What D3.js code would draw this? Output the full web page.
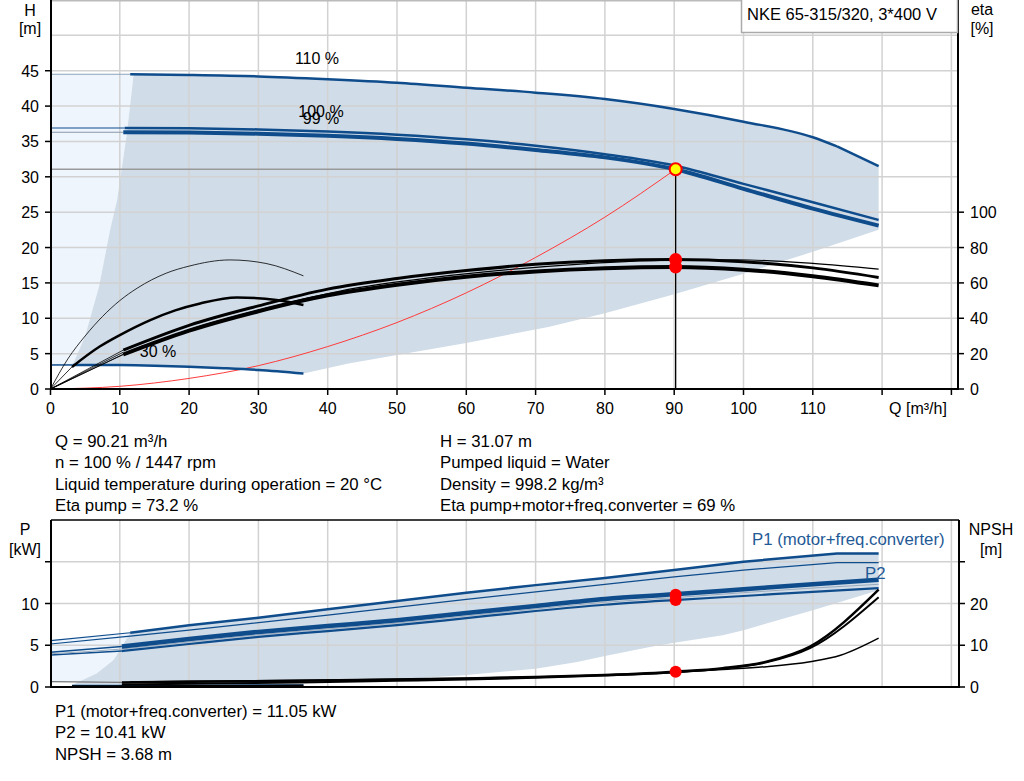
<!DOCTYPE html>
<html><head><meta charset="utf-8">
<script src="https://cdn.jsdelivr.net/npm/d3@7"></script>
<style>
body{margin:0;background:#fff}
text{font-family:"Liberation Sans",Arial,sans-serif;fill:#000}
</style>
</head><body>
<svg id="c" width="1024" height="781"></svg>
<script>
// ---------- DATA ----------
const qTicks = [0,10,20,30,40,50,60,70,80,90,100,110];
const qGrid = [10,20,30,40,50,60,70,80,90,100,110,120,130];
const hTicks = [0,5,10,15,20,25,30,35,40,45];
const etaTicks = [0,20,40,60,80,100];
const pTicks = [0,5,10];
const npshTicks = [0,10,20];

// Head curves [Q m3/h, H m]
const head110 = [[11.5,44.5],[20,44.4],[30,44.2],[40,43.8],[50,43.3],[60,42.6],[70,41.9],[80,41.0],[90,39.6],[100,37.8],[110,35.6],[113.5,34.3],[119.5,31.5]];
const head110Ext = [[0,44.5],[11.5,44.5]];
const head100 = [[10.7,36.9],[20,36.85],[30,36.7],[40,36.4],[50,35.95],[60,35.3],[70,34.4],[80,33.2],[90,31.6],[100,29.0],[110,26.4],[119.5,23.9]];
const head100Ext = [[0,36.9],[10.7,36.9]];
const head99 = [[10.5,36.3],[20,36.25],[30,36.1],[40,35.8],[50,35.35],[60,34.7],[70,33.8],[80,32.75],[90,31.1],[100,28.3],[110,25.5],[119.5,23.1]];
const head99Ext = [[0,36.3],[10.5,36.3]];
const head30 = [[3.2,3.4],[10,3.38],[15,3.3],[20,3.15],[25,2.95],[30,2.7],[36.5,2.2]];
const head30Ext = [[0,3.4],[3.2,3.4]];
const topLeftBoundary = [[3.2,3.4],[5,7.5],[7,14.5],[8.6,22.5],[9.6,26.7],[11,36],[12,44.5]];
const topLowerBoundary = [[36.5,2.2],[43,3.6],[50,4.8],[60,6.5],[72,8.8],[80,10.7],[90,13.4],[100,16.3],[110,19.4],[119.5,22.5]];
const systemCurve = [[0,0],[10,0.38],[20,1.5],[30,3.3],[40,6.0],[50,9.4],[60,13.6],[70,18.6],[80,24.3],[90.21,31.07]];

// Efficiency curves [Q, eta %]
const etaPump = [[10.5,22],[20,36],[30,47],[40,56.5],[50,62.5],[60,67],[70,70.5],[80,72.5],[90,73.2],[100,72],[110,68.5],[119.5,63.1]];
const etaTotal = [[10.5,19.5],[20,33],[30,44],[40,53],[50,59],[60,63.5],[70,66.5],[80,68.3],[90,69],[100,67.5],[110,63.8],[119.5,58.6]];
const eta110 = [[11.5,21.5],[22,36],[33,47.5],[44,57],[55,63],[66,67.5],[77,70.8],[88,72.8],[99,73.1],[110,71],[119.5,67.8]];
const eta30Pump = [[0,0],[2.5,17],[5,30],[7.5,41],[10,50],[12.5,57],[16.7,65.5],[20,69.5],[25.9,73],[31.1,71],[36.5,64]];
const eta30Total = [[3.1,12.5],[7.1,24],[10,30.5],[14.4,39],[18,44.5],[21.6,48.4],[26.9,51.8],[32.6,50.3],[36.5,47.5]];
const etaOriginExt = [[[0,0],[10.5,22]],[[0,0],[10.5,19.5]],[[0,0],[11.5,21.5]],[[0,0],[3.1,12.5]],[[0,0],[10.5,20.8]]];

// Power curves [Q, P kW]
const p1_110 = [[11.5,6.5],[20,7.4],[30,8.3],[40,9.3],[50,10.3],[60,11.3],[70,12.2],[80,13.05],[90,14.0],[100,15.0],[113.5,16.0],[119.5,16.0]];
const p1_110Ext = [[0,5.55],[11.5,6.5]];
const p2_110 = [[0,5.15],[11.5,6.1],[20,6.8],[40,8.6],[60,10.5],[80,12.3],[90,13.2],[100,14.0],[113.5,14.9],[119.5,14.9]];
const p1 = [[10.3,4.85],[20,5.75],[30,6.6],[40,7.3],[50,8.0],[60,8.85],[70,9.7],[80,10.55],[90,11.1],[100,11.7],[110,12.3],[119.5,12.85]];
const p1Ext = [[0,4.15],[10.3,4.85]];
const p1b = [[0,3.98],[10.3,4.55],[20,5.4],[30,6.25],[40,6.95],[50,7.65],[60,8.5],[70,9.35],[80,10.15],[90,10.7],[100,11.3],[110,11.85],[119.5,12.3]];
const p2 = [[10.3,4.3],[20,5.15],[30,6.0],[40,6.7],[50,7.4],[60,8.25],[70,9.1],[80,9.85],[90,10.41],[100,10.9],[110,11.4],[119.5,11.85]];
const p2Ext = [[0,3.83],[10.3,4.3]];
const p30 = [[3.1,0.15],[10,0.16],[20,0.18],[30,0.2],[36.5,0.22]];
const botLeftBoundary = [[3.1,0.24],[6.7,1.64],[9.1,3.24],[10.3,4.83],[11.2,6.1],[11.5,6.5]];
const botLowerBoundary = [[36.5,0.45],[50,0.9],[60,1.44],[70,2.2],[76,3.0],[80,3.7],[86.5,4.8],[90,5.3],[97,6.2],[100,6.8],[110,9.2],[119.5,11.6]];

// NPSH curves [Q, NPSH m]
const npsh100 = [[10.3,1.1],[20,1.25],[36,1.5],[50,1.8],[60,2.05],[70,2.4],[80,2.9],[90.21,3.68],[97,4.5],[103.3,6.07],[109.6,9.7],[119.5,23.3]];
const npsh99 = [[10.3,0.6],[20,0.8],[36,1.1],[50,1.5],[60,1.8],[70,2.2],[80,2.75],[90,3.5],[97,4.4],[103.3,5.9],[109.6,9.3],[119.5,21.5]];
const npsh110 = [[11.5,1.2],[20,1.35],[40,1.65],[60,2.1],[80,2.9],[90,3.55],[97,4.2],[103.3,4.87],[109.6,6.07],[114,7.6],[119.5,11.7]];
const npsh30 = [[3.1,0.1],[10,0.12],[20,0.16],[30,0.22],[36.5,0.28]];
const npshExt = [[0,1.27],[10.3,1.1]];

// Operating point
const opQ = 90.21, opH = 31.07, opEtaPump = 73.2, opEtaTotal = 69, opP1 = 11.05, opP2 = 10.41, opNPSH = 3.68;

const curveLabels = ["110 %","100 %","99 %","30 %"];
const infoLeft = ["Q = 90.21 m³/h","n = 100 % / 1447 rpm","Liquid temperature during operation = 20 °C","Eta pump = 73.2 %"];
const infoRight = ["H = 31.07 m","Pumped liquid = Water","Density = 998.2 kg/m³","Eta pump+motor+freq.converter = 69 %"];
const infoBottom = ["P1 (motor+freq.converter) = 11.05 kW","P2 = 10.41 kW","NPSH = 3.68 m"];
const title = "NKE 65-315/320, 3*400 V";

// ---------- SCALES ----------
const svg = d3.select("#c");
const X0 = 51, X1 = 958;
const x = d3.scaleLinear().domain([0,130]).range([50.5,951.4]);
const yH = d3.scaleLinear().domain([0,55]).range([389,0]);
const yE = d3.scaleLinear().domain([0,220]).range([389,0]);
const yP = d3.scaleLinear().domain([0,20]).range([687,520]);
const yN = d3.scaleLinear().domain([0,40]).range([687,520]);

const BLUE = "#0f4c8c", SHADE = "#d0dce8", LIGHT = "#eef5fc", GRID = "#d2d2d2";

function lineFn(ys, curve){ return d3.line().x(d=>x(d[0])).y(d=>ys(d[1])).curve(curve||d3.curveMonotoneX); }
function path(data, ys, color, w, curve){
  svg.append("path").attr("d", lineFn(ys, curve)(data)).attr("fill","none")
    .attr("stroke",color).attr("stroke-width",w).attr("stroke-linejoin","round").attr("stroke-linecap","butt");
}
function poly(data, ys, fill){
  svg.append("path").attr("d", lineFn(ys, d3.curveLinear)(data)+"Z").attr("fill",fill).attr("stroke","none");
}

// ---------- TOP CHART ----------
poly([[0,44.5],...topLeftBoundary.slice().reverse(),[0,3.4]], yH, LIGHT);
poly([...topLeftBoundary, ...head110.filter(d=>d[0]>12), [119.5,22.5], ...topLowerBoundary.slice().reverse(), ...head30.slice().reverse()], yH, SHADE);

const gTop = svg.append("g");
qGrid.forEach(q=>gTop.append("line").attr("x1",x(q)).attr("x2",x(q)).attr("y1",0).attr("y2",389).attr("stroke",GRID).attr("stroke-width",1.5));
d3.range(5,56,5).forEach(h=>gTop.append("line").attr("x1",X0).attr("x2",X1).attr("y1",yH(h)).attr("y2",yH(h)).attr("stroke",GRID).attr("stroke-width",1.5));
gTop.append("line").attr("x1",X0).attr("x2",X1).attr("y1",0.75).attr("y2",0.75).attr("stroke","#bbb").attr("stroke-width",1.5);

path(systemCurve, yH, "#ff3b3b", 1);
svg.append("line").attr("x1",X0).attr("x2",x(opQ)).attr("y1",yH(opH)).attr("y2",yH(opH)).attr("stroke","#999").attr("stroke-width",1.5);
svg.append("line").attr("x1",x(opQ)).attr("x2",x(opQ)).attr("y1",yH(opH)).attr("y2",389).attr("stroke","#000").attr("stroke-width",1.3);

path(head110Ext, yH, "#8ca3bd", 1.2);
path(head100Ext, yH, BLUE, 1.2);
path(head99Ext, yH, "#8899aa", 1.2);
path(head30Ext, yH, BLUE, 1.5);
// 110 %: smooth up to the kink, straight after it
path(head110.filter(d=>d[0]<=113.5), yH, BLUE, 2.5);
path(head110.filter(d=>d[0]>=113.5), yH, BLUE, 2.5, d3.curveLinear);
path(head100, yH, BLUE, 2.5);
path(head99, yH, BLUE, 4);
path(head30, yH, BLUE, 2.5);

etaOriginExt.forEach(d=>path(d, yE, "#000", 0.8, d3.curveLinear));
path(eta30Pump, yE, "#000", 0.8);
path(eta30Total, yE, "#000", 2.5);
path(eta110, yE, "#000", 1.2);
path(etaPump, yE, "#000", 3);
path(etaTotal, yE, "#000", 4);

svg.append("circle").attr("cx",x(opQ)).attr("cy",yE(opEtaPump)).attr("r",6.5).attr("fill","#ff0000");
svg.append("circle").attr("cx",x(opQ)).attr("cy",yE(opEtaTotal)).attr("r",6.5).attr("fill","#ff0000");
svg.append("circle").attr("cx",x(opQ)).attr("cy",yH(opH)).attr("r",6).attr("fill","#ffff00").attr("stroke","#ff0000").attr("stroke-width",2);

const lblPos = {"110 %":[317,64],"100 %":[321,117],"99 %":[321,124],"30 %":[158,357]};
curveLabels.forEach(l=>svg.append("text").attr("x",lblPos[l][0]).attr("y",lblPos[l][1]).attr("text-anchor","middle").attr("font-size",16).text(l));

svg.append("line").attr("x1",X0).attr("x2",X0).attr("y1",0).attr("y2",390).attr("stroke","#000").attr("stroke-width",2);
svg.append("line").attr("x1",X1).attr("x2",X1).attr("y1",0).attr("y2",390).attr("stroke","#000").attr("stroke-width",2);
svg.append("line").attr("x1",X0).attr("x2",X1).attr("y1",389).attr("y2",389).attr("stroke","#000").attr("stroke-width",2);
hTicks.forEach(h=>{
  svg.append("line").attr("x1",45).attr("x2",X0).attr("y1",yH(h)).attr("y2",yH(h)).attr("stroke","#000").attr("stroke-width",1.5);
  svg.append("text").attr("x",39).attr("y",yH(h)+6).attr("text-anchor","end").attr("font-size",16).text(h);
});
etaTicks.forEach(e=>{
  svg.append("line").attr("x1",X1).attr("x2",X1+6).attr("y1",yE(e)).attr("y2",yE(e)).attr("stroke","#000").attr("stroke-width",1.5);
  svg.append("text").attr("x",970).attr("y",yE(e)+6).attr("font-size",16).text(e);
});
qGrid.concat([0]).forEach(q=>svg.append("line").attr("x1",x(q)).attr("x2",x(q)).attr("y1",389).attr("y2",395).attr("stroke","#000").attr("stroke-width",1.5));
qTicks.forEach(q=>svg.append("text").attr("x",x(q)).attr("y",414).attr("text-anchor","middle").attr("font-size",16).text(q));
svg.append("text").attr("x",918).attr("y",414).attr("text-anchor","middle").attr("font-size",16).text("Q [m³/h]");
svg.append("text").attr("x",30).attr("y",16).attr("text-anchor","middle").attr("font-size",16).text("H");
svg.append("text").attr("x",30).attr("y",34).attr("text-anchor","middle").attr("font-size",16).text("[m]");
svg.append("text").attr("x",982).attr("y",15).attr("text-anchor","middle").attr("font-size",16).text("eta");
svg.append("text").attr("x",982).attr("y",34).attr("text-anchor","middle").attr("font-size",16).text("[%]");

svg.append("rect").attr("x",741.5).attr("y",-1).attr("width",216).attr("height",33.5).attr("fill","#fff").attr("stroke","#aaa").attr("stroke-width",1.5);
svg.append("text").attr("x",747).attr("y",20).attr("font-size",16.5).text(title);

infoLeft.forEach((t,i)=>svg.append("text").attr("x",55).attr("y",447+i*21.3).attr("font-size",16.8).text(t));
infoRight.forEach((t,i)=>svg.append("text").attr("x",440).attr("y",447+i*21.3).attr("font-size",16.8).text(t));
infoBottom.forEach((t,i)=>svg.append("text").attr("x",55).attr("y",717+i*21.3).attr("font-size",16.8).text(t));

// ---------- BOTTOM CHART ----------
poly([[0,5.55],[11.5,6.5],...botLeftBoundary.slice().reverse().slice(1).filter(d=>d[1]>0.64),[4.1,0.64],[0,0.64]], yP, LIGHT);
poly([...botLeftBoundary, ...p1_110.filter(d=>d[0]>11.5), [119.5,11.6], ...botLowerBoundary.slice().reverse(), [3.1,0.24]], yP, SHADE);

const gB = svg.append("g");
qGrid.forEach(q=>gB.append("line").attr("x1",x(q)).attr("x2",x(q)).attr("y1",520).attr("y2",687).attr("stroke",GRID).attr("stroke-width",1.5));
[5,10,15].forEach(p=>gB.append("line").attr("x1",X0).attr("x2",X1).attr("y1",yP(p)).attr("y2",yP(p)).attr("stroke",GRID).attr("stroke-width",1.5));

path(p1_110Ext, yP, BLUE, 1.2, d3.curveLinear);
path(p2_110, yP, BLUE, 1.2, d3.curveLinear);
path(p1_110, yP, BLUE, 2.5, d3.curveLinear);
path(p1Ext, yP, BLUE, 1.5, d3.curveLinear);
path(p2Ext, yP, BLUE, 1.5, d3.curveLinear);
path(p1b, yP, "#9aaabb", 1);
path(p2, yP, BLUE, 2.2);
path(p1, yP, BLUE, 4.5);
path(p30, yP, BLUE, 2);

path(npshExt, yN, "#777", 1.2, d3.curveLinear);
path(npsh30, yN, "#000", 2.5);
path(npsh110, yN, "#000", 1.5);
path(npsh99, yN, "#000", 2);
path(npsh100, yN, "#000", 2.5);

svg.append("circle").attr("cx",x(opQ)).attr("cy",yP(opP1)).attr("r",6).attr("fill","#ff0000");
svg.append("circle").attr("cx",x(opQ)).attr("cy",yP(opP2)).attr("r",6).attr("fill","#ff0000");
svg.append("circle").attr("cx",x(opQ)).attr("cy",yN(opNPSH)).attr("r",6).attr("fill","#ff0000");

svg.append("text").attr("x",752).attr("y",545).attr("font-size",16.8).style("fill","#1f5a96").text("P1 (motor+freq.converter)");
svg.append("text").attr("x",865).attr("y",579).attr("font-size",16.8).style("fill","#1f5a96").text("P2");

svg.append("line").attr("x1",X0).attr("x2",X1+1).attr("y1",520).attr("y2",520).attr("stroke","#000").attr("stroke-width",1.5);
svg.append("line").attr("x1",X0).attr("x2",X0).attr("y1",520).attr("y2",688).attr("stroke","#000").attr("stroke-width",2);
svg.append("line").attr("x1",X1+1).attr("x2",X1+1).attr("y1",520).attr("y2",688).attr("stroke","#000").attr("stroke-width",2);
svg.append("line").attr("x1",X0).attr("x2",X1+1).attr("y1",687).attr("y2",687).attr("stroke","#000").attr("stroke-width",2);
[0,5,10,15].forEach(p=>svg.append("line").attr("x1",45).attr("x2",X0).attr("y1",yP(p)).attr("y2",yP(p)).attr("stroke","#000").attr("stroke-width",1.5));
pTicks.forEach(p=>svg.append("text").attr("x",39).attr("y",yP(p)+6).attr("text-anchor","end").attr("font-size",16).text(p));
[0,10,20,30].forEach(n=>svg.append("line").attr("x1",X1+1).attr("x2",X1+7).attr("y1",yN(n)).attr("y2",yN(n)).attr("stroke","#000").attr("stroke-width",1.5));
npshTicks.forEach(n=>svg.append("text").attr("x",970).attr("y",yN(n)+6).attr("font-size",16).text(n));
svg.append("text").attr("x",25).attr("y",535).attr("text-anchor","middle").attr("font-size",16).text("P");
svg.append("text").attr("x",25).attr("y",555).attr("text-anchor","middle").attr("font-size",16).text("[kW]");
svg.append("text").attr("x",991).attr("y",535).attr("text-anchor","middle").attr("font-size",16).text("NPSH");
svg.append("text").attr("x",991).attr("y",555).attr("text-anchor","middle").attr("font-size",16).text("[m]");
</script>
</body></html>
